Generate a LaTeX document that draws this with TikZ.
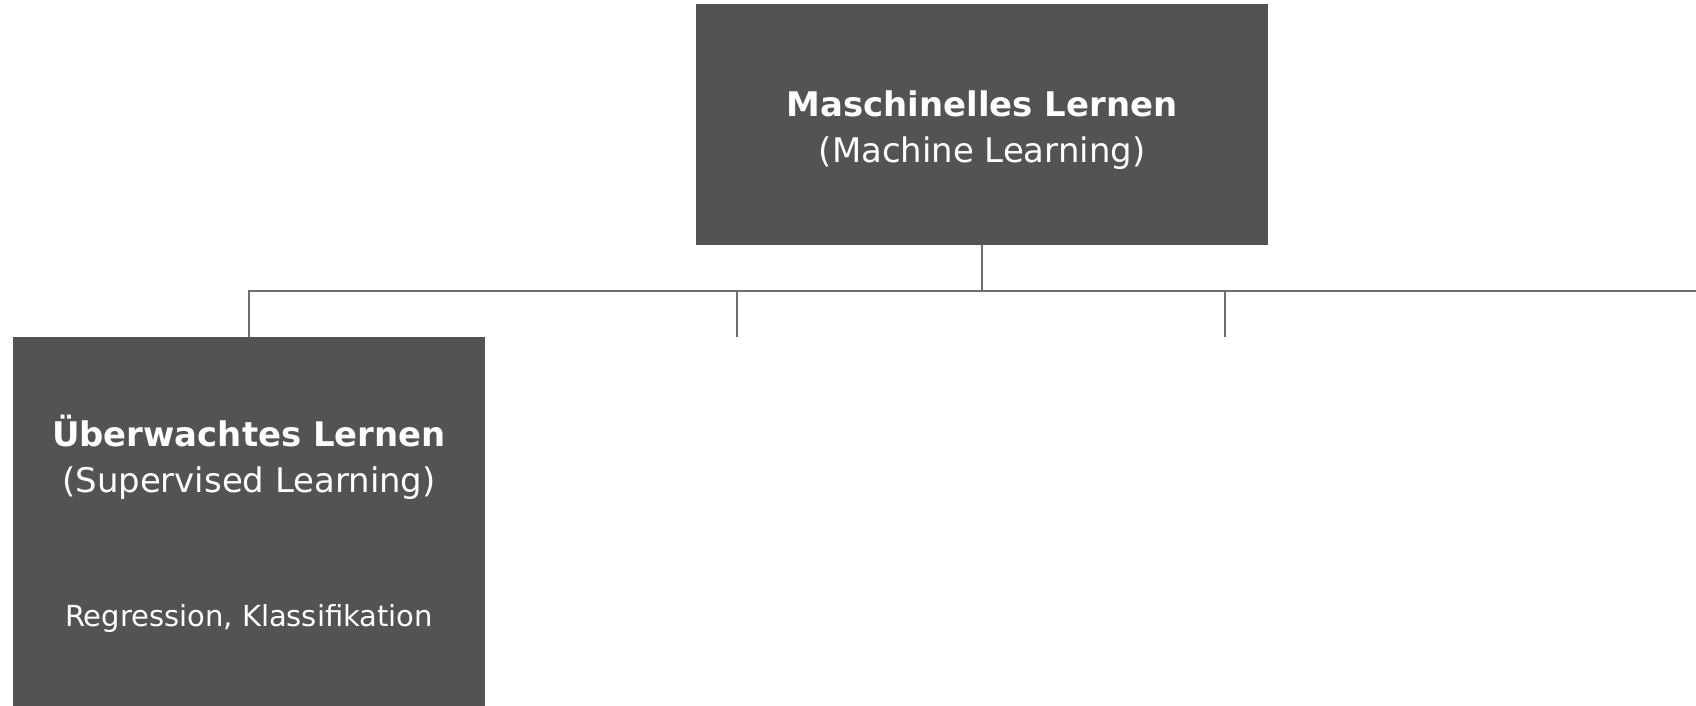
\documentclass[tikz,border=0pt]{standalone}
\usepackage{fontspec}
\setmainfont{DejaVu Sans}

\definecolor{boxgray}{HTML}{535353}
\definecolor{linegray}{HTML}{6E6E6E}

\tikzset{
    catbox/.style={fill=boxgray, draw=none, inner sep=0pt},
    link/.style={draw=linegray, line width=1.1pt},
    titletext/.style={text=white, font=\fontsize{19.3}{23}\selectfont, anchor=base, inner sep=0pt},
    smalltext/.style={text=white, font=\fontsize{16.5}{20}\selectfont, anchor=base, inner sep=0pt}
}

\begin{document}
\begin{tikzpicture}[x=0.02cm, y=-0.02cm]

        % Page frame
        \clip (0,0) rectangle (1696,706);

        % Root: machine learning
        \node[catbox, minimum width=11.46cm, minimum height=4.82cm] (ml) at (982,124.5) {};
        \node[titletext] (mltitle) at (982,116) {\bfseries Maschinelles Lernen};
        \node[titletext] (mlsub)   at (982,162) {(Machine Learning)};

        % First branch: supervised learning
        \node[catbox, minimum width=9.44cm, minimum height=7.48cm, anchor=north] (sup) at (249,337) {};
        \node[titletext] (suptitle) at (249,446) {\bfseries Überwachtes Lernen};
        \node[titletext] (supsub)   at (249,492) {(Supervised Learning)};
        \node[smalltext] (supex)    at (249,626) {Regression, Klassifikation};

        % Branch points
        \coordinate (bus)    at ( 982,291);
        \coordinate (busend) at (1713,291);
        \coordinate (c2)     at ( 737,337);
        \coordinate (c3)     at (1225,337);

        % Connectors
        \draw[link] (ml.south) -- (bus);
        \draw[link] (sup.north) |- (busend);
        \draw[link] (c2) -- (c2 |- bus);
        \draw[link] (c3) -- (c3 |- bus);

    \end{tikzpicture}
\end{document}
